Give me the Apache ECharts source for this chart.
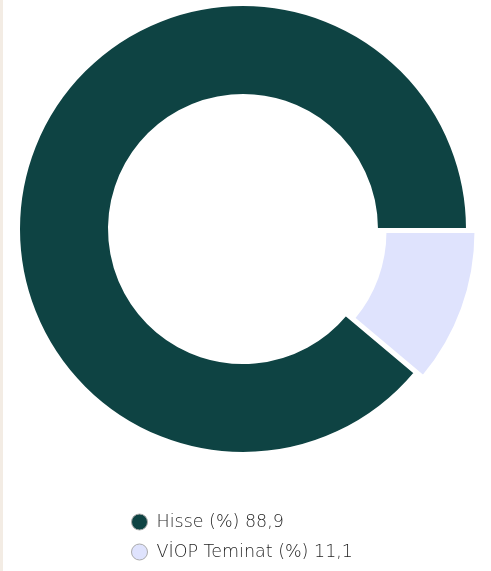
<!DOCTYPE html>
<html><head><meta charset="utf-8">
<script src="https://cdn.jsdelivr.net/npm/echarts@6/dist/echarts.min.js"></script>
<style>html,body{margin:0;padding:0;background:#fff}#c{width:491px;height:571px;border-left:3px solid #f3ece4;box-sizing:border-box}</style>
</head><body><div id="c"></div>
<script>
const categories = ['Hisse (%) 88,9', 'VİOP Teminat (%) 11,1'];
const values = [88.9, 11.1];
const colors = ['#0e4343', '#dfe3fd'];
const chart = echarts.init(document.getElementById('c'));
chart.setOption({
  animation: false,
  legend: {
    orient: 'vertical', left: 123, top: 508,
    icon: 'circle', itemWidth: 16, itemHeight: 16, itemGap: 12,
    textStyle: {fontFamily: 'DejaVu Sans', fontWeight: 200, fontSize: 17.5, color: '#1f1f1f', padding: [0, 0, 0, 4]},
    itemStyle: {borderColor: '#aaa', borderWidth: 1}
  },
  series: [{
    type: 'pie', center: [240, 229], radius: [134, 224],
    startAngle: 0, clockwise: false,
    selectedMode: 'single', selectedOffset: 9,
    label: {show: false}, labelLine: {show: false},
    itemStyle: {borderColor: '#fff', borderWidth: 2},
    data: categories.map((n, i) => ({name: n, value: values[i], selected: i === 1, itemStyle: {color: colors[i]}}))
  }]
});
</script></body></html>
